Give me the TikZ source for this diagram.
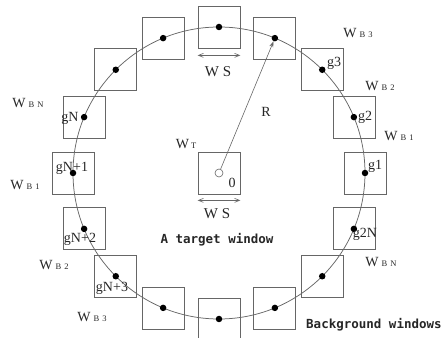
\documentclass[tikz,border=0pt]{standalone}
\usepackage{fontspec}
\setmainfont{Liberation Serif}
\newfontfamily\monof{DejaVu Sans Mono}
\usetikzlibrary{arrows.meta,calc}
\definecolor{ink}{gray}{0.15}
\definecolor{linec}{gray}{0.4}
\newcommand\wsubl[2]{{\fontsize{14}{14}\selectfont W}\hspace{3pt}{\fontsize{8.5}{9}\selectfont #1\hspace{3pt}#2}}
\begin{document}
\begin{tikzpicture}[x=1pt,y=1pt,
  win/.style={draw=linec,line width=0.75pt,minimum size=42pt,inner sep=0pt},
  dotn/.style={circle,fill=black,inner sep=0pt,minimum size=6.5pt},
  lab/.style={text=ink,font=\fontsize{14}{14}\selectfont,inner sep=0pt},
  wl/.style={text=ink,inner sep=0pt},
  mono/.style={text=ink,font=\monof\bfseries\fontsize{12.5}{13}\selectfont,inner sep=0pt},
  wsarrow/.style={draw=linec,line width=0.6pt,{Straight Barb[length=5pt,width=4pt]}-{Straight Barb[length=5pt,width=4pt]}}]
\useasboundingbox (0,0) rectangle (448,338);
\clip (0,0) rectangle (448,338);
\coordinate (C) at (219,165);
\foreach \k in {0,...,15}{
  \node[win] (b\k) at ($(C)+({90-22.5*\k}:146)$) {};
}
\draw[linec,line width=0.75pt] (C) circle (146);
\foreach \k in {0,...,15}{
  \node[dotn] (d\k) at (b\k.center) {};
}
% target window
\node[win] (t) at (C) {};
\node[circle,draw=linec,line width=0.6pt,minimum size=8pt,inner sep=0pt] (o) at (C) {};
\draw[linec,line width=0.6pt,-{Stealth[length=6pt,width=4pt]}] (o) -- (d1);
\node[lab] (rl) at (266,226) {R};
\node[lab] (zl) at (232,155) {0};
\node[wl] (wt) at (186,194) {{\fontsize{14}{14}\selectfont W}\hspace{2pt}{\fontsize{8.5}{9}\selectfont T}};
% WS arrows
\coordinate (wsa1) at ([yshift=-6pt]t.south west);
\coordinate (wsa2) at ([yshift=-6pt]t.south east);
\draw[wsarrow] (wsa1) -- (wsa2);
\node[lab,font=\fontsize{15}{15}\selectfont] (ws1) at (217,124) {W S};
\coordinate (wsb1) at ([yshift=-7pt]b0.south west);
\coordinate (wsb2) at ([yshift=-7pt]b0.south east);
\draw[wsarrow] (wsb1) -- (wsb2);
\node[lab,font=\fontsize{15}{15}\selectfont] (ws2) at (218,266) {W S};
% g labels
\node[lab] (g3) at (334,275) {g3};
\node[lab] (g2) at (365,221) {g2};
\node[lab] (g1) at (375,172) {g1};
\node[lab] (g2n) at (365,104) {g2N};
\node[lab] (gn) at (70,220) {gN};
\node[lab] (gn1) at (72,170) {gN+1};
\node[lab] (gn2) at (80,99) {gN+2};
\node[lab] (gn3) at (112,50) {gN+3};
% W_B labels
\node[wl] (wb3r) at (358,305) {\wsubl{B}{3}};
\node[wl] (wb2r) at (380,252) {\wsubl{B}{2}};
\node[wl] (wb1r) at (399,202) {\wsubl{B}{1}};
\node[wl] (wbnr) at (381,76) {\wsubl{B}{N}};
\node[wl] (wbnl) at (28,235) {\wsubl{B}{N}};
\node[wl] (wb1l) at (25,153) {\wsubl{B}{1}};
\node[wl] (wb2l) at (54,73) {\wsubl{B}{2}};
\node[wl] (wb3l) at (92,21) {\wsubl{B}{3}};
% captions
\node[mono] (tw) at (217,98) {A target window};
\node[mono,anchor=west] (bw) at (306,13) {Background windows};
\end{tikzpicture}
\end{document}
